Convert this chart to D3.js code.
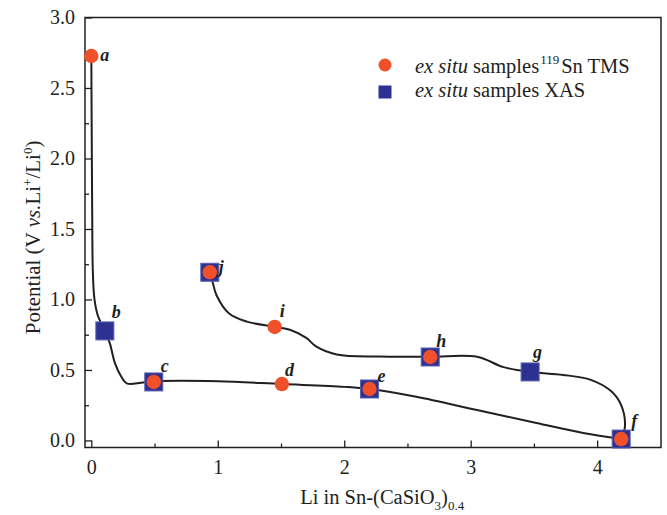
<!DOCTYPE html>
<html>
<head>
<meta charset="utf-8">
<style>
  body { margin: 0; background: #fff; }
  svg { display: block; }
  text { font-family: "Liberation Serif", "Times New Roman", serif; fill: #231f20; }
</style>
</head>
<body>
<svg width="667" height="515"></svg>
<script src="https://cdn.jsdelivr.net/npm/d3@7"></script>
<script>
// sample points (Li content, potential)
var sampleIds = ["a", "b", "c", "d", "e", "f", "g", "h", "i", "j"];
var sampleLi  = [0, 0.107, 0.494, 1.507, 2.20, 4.19, 3.47, 2.68, 1.45, 0.937];
var samplePot = [2.727, 0.777, 0.415, 0.40, 0.365, 0.01, 0.486, 0.592, 0.805, 1.193];

// which samples were measured by which technique
var tmsIds = ["a", "c", "d", "e", "f", "h", "i", "j"];
var xasIds = ["b", "c", "e", "f", "g", "h", "j"];

// first discharge curve
var dischargeLi  = [0, 0.003, 0.007, 0.012, 0.025, 0.05, 0.107, 0.146, 0.186, 0.235, 0.28, 0.494, 1.0, 1.507, 2.0, 2.2, 2.57, 3.05, 3.52, 3.89, 4.19];
var dischargePot = [2.727, 2.2, 1.6, 1.2, 1.0, 0.89, 0.777, 0.69, 0.55, 0.455, 0.405, 0.42, 0.42, 0.40, 0.38, 0.365, 0.31, 0.216, 0.124, 0.053, 0.01];

// charge curve
var chargeLi  = [4.19, 4.22, 4.19, 4.11, 3.95, 3.73, 3.47, 3.26, 3.05, 2.68, 2.28, 1.94, 1.78, 1.70, 1.57, 1.45, 1.23, 1.09, 0.99, 0.96, 0.937];
var chargePot = [0.01, 0.10, 0.25, 0.35, 0.43, 0.465, 0.486, 0.52, 0.594, 0.594, 0.595, 0.61, 0.665, 0.727, 0.785, 0.805, 0.843, 0.90, 1.03, 1.12, 1.193];

var xMajor = [0, 1, 2, 3, 4];
var xMinor = [0.5, 1.5, 2.5, 3.5];
var yMajor = [0, 0.5, 1, 1.5, 2, 2.5, 3];
var yMinor = [0.25, 0.75, 1.25, 1.75, 2.25, 2.75];

var svg = d3.select("svg"),
    margin = {top: 17.5, right: 6, bottom: 67.5, left: 85},
    width = +svg.attr("width") - margin.left - margin.right,
    height = +svg.attr("height") - margin.top - margin.bottom;

var ink = "#231f20",
    orange = "#f0502a",
    navy = "#2e3192",
    serif = "'Liberation Serif', 'Times New Roman', serif";

var x = d3.scaleLinear().domain([-0.05, 4.505]).range([0, width]);
var y = d3.scaleLinear().domain([-0.05, 3.0]).range([height, 0]);

var g = svg.append("g").attr("transform", "translate(" + margin.left + "," + margin.top + ")");

// axes, ticks pointing inward
var xAxis = g.append("g")
    .attr("transform", "translate(0," + height + ")")
    .call(d3.axisBottom(x).tickValues(xMajor).tickSizeInner(-7).tickSizeOuter(0).tickPadding(12).tickFormat(d3.format("d")));
var xAxisMinor = g.append("g")
    .attr("transform", "translate(0," + height + ")")
    .call(d3.axisBottom(x).tickValues(xMinor).tickSizeInner(-4).tickSizeOuter(0).tickFormat(""));
var yAxis = g.append("g")
    .call(d3.axisLeft(y).tickValues(yMajor).tickSizeInner(-7).tickSizeOuter(0).tickPadding(10).tickFormat(d3.format(".1f")));
var yAxisMinor = g.append("g")
    .call(d3.axisLeft(y).tickValues(yMinor).tickSizeInner(-4).tickSizeOuter(0).tickFormat(""));

[xAxis, xAxisMinor, yAxis, yAxisMinor].forEach(function(a) {
  a.attr("font-family", serif).attr("font-size", 20);
  a.select(".domain").remove();
  a.selectAll("line").attr("stroke", ink).attr("stroke-width", 1.3);
  a.selectAll("text").attr("fill", ink);
});

// frame
g.append("rect")
    .attr("width", width)
    .attr("height", height)
    .attr("fill", "none")
    .attr("stroke", ink)
    .attr("stroke-width", 1.5);

// curves
var line = d3.line()
    .x(function(d) { return x(d[0]); })
    .y(function(d) { return y(d[1]); })
    .curve(d3.curveCatmullRom.alpha(0.5));

g.append("path")
    .datum(d3.zip(dischargeLi, dischargePot))
    .attr("d", line)
    .attr("fill", "none")
    .attr("stroke", ink)
    .attr("stroke-width", 2);

g.append("path")
    .datum(d3.zip(chargeLi, chargePot))
    .attr("d", line)
    .attr("fill", "none")
    .attr("stroke", ink)
    .attr("stroke-width", 2);

var samples = sampleIds.map(function(id, i) {
  return {id: id, li: sampleLi[i], pot: samplePot[i]};
});
function byId(ids) {
  return samples.filter(function(d) { return ids.indexOf(d.id) >= 0; });
}

// XAS squares underneath, TMS circles on top
var sq = 18;
g.append("g").selectAll("rect")
    .data(byId(xasIds))
    .enter().append("rect")
    .attr("x", function(d) { return x(d.li) - sq / 2; })
    .attr("y", function(d) { return y(d.pot) - sq / 2; })
    .attr("width", sq)
    .attr("height", sq)
    .attr("fill", navy)
    .attr("stroke", "#5a60ad")
    .attr("stroke-width", 1);

g.append("g").selectAll("circle")
    .data(byId(tmsIds))
    .enter().append("circle")
    .attr("cx", function(d) { return x(d.li); })
    .attr("cy", function(d) { return y(d.pot); })
    .attr("r", 7.2)
    .attr("fill", orange);

// letter labels, nudged off the markers
var labelNudge = {
  a: [9, 5], b: [7, -13], c: [7, -10], d: [3, -8], e: [8, -7],
  f: [10, -12], g: [3, -14], h: [6, -10], i: [5, -10], j: [9, 1]
};
g.append("g").selectAll("text")
    .data(samples)
    .enter().append("text")
    .attr("x", function(d) { return x(d.li) + labelNudge[d.id][0]; })
    .attr("y", function(d) { return y(d.pot) + labelNudge[d.id][1]; })
    .style("font-size", "18px")
    .style("font-weight", "bold")
    .style("font-style", "italic")
    .text(function(d) { return d.id; });

// legend
var legend = svg.append("g").attr("transform", "translate(385,65)");
legend.append("circle").attr("r", 6.5).attr("fill", orange);
legend.append("rect").attr("x", -6.5).attr("y", 20.5).attr("width", 13).attr("height", 13).attr("fill", navy);

var t1 = legend.append("text").attr("x", 30).attr("y", 8).style("font-size", "20.5px");
t1.append("tspan").style("font-style", "italic").text("ex situ");
t1.append("tspan").text(" samples");
t1.append("tspan").attr("dy", -9).attr("dx", 1).style("font-size", "13px").text("119");
t1.append("tspan").attr("dy", 9).attr("dx", 2).text("Sn TMS");

var t2 = legend.append("text").attr("x", 30).attr("y", 32).style("font-size", "20.5px");
t2.append("tspan").style("font-style", "italic").text("ex situ");
t2.append("tspan").text(" samples XAS");

// axis titles
var xt = svg.append("text")
    .attr("x", margin.left + x(2.3))
    .attr("y", 504)
    .attr("text-anchor", "middle")
    .style("font-size", "20.5px");
xt.append("tspan").text("Li in Sn-(CaSiO");
xt.append("tspan").attr("dy", 6).style("font-size", "13px").text("3");
xt.append("tspan").attr("dy", -6).text(")");
xt.append("tspan").attr("dy", 6).style("font-size", "13px").text("0.4");

var yt = svg.append("text")
    .attr("transform", "translate(40," + (margin.top + y(1.44)) + ") rotate(-90)")
    .attr("text-anchor", "middle")
    .style("font-size", "21px");
yt.append("tspan").text("Potential (V ");
yt.append("tspan").style("font-style", "italic").text("vs.");
yt.append("tspan").text("Li");
yt.append("tspan").attr("dy", -8).style("font-size", "13px").text("+");
yt.append("tspan").attr("dy", 8).text("/Li");
yt.append("tspan").attr("dy", -8).style("font-size", "13px").text("0");
yt.append("tspan").attr("dy", 8).text(")");
</script>
</body>
</html>
